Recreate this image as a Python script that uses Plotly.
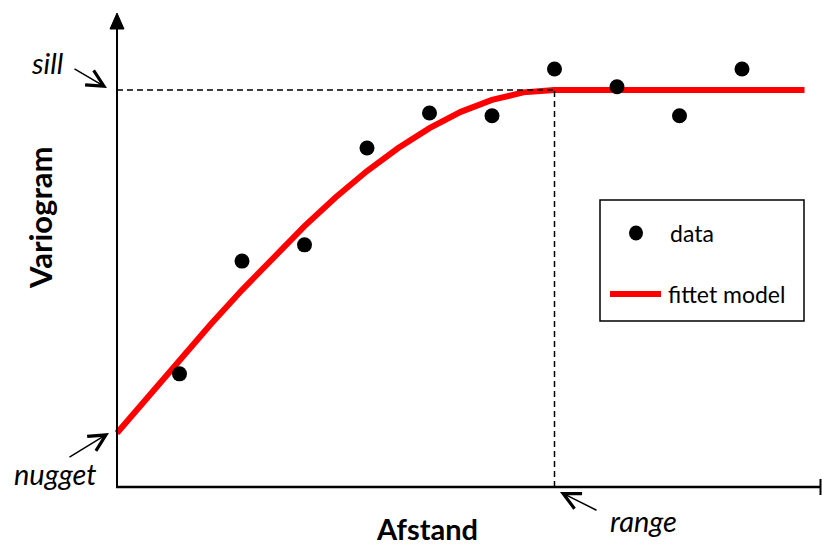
import plotly.graph_objects as go

# ---- data ----
dist_data = [1, 2, 3, 4, 5, 6, 7, 8, 9, 10]
gamma_data = [0.285, 0.569, 0.610, 0.854, 0.942, 0.935, 1.053, 1.008, 0.935, 1.053]

dist_model = [0, 0.5, 1, 1.5, 2, 2.5, 3, 3.5, 4, 4.5, 5, 5.5, 6, 6.5, 7, 11]
gamma_model = [0.136, 0.228, 0.32, 0.41, 0.496, 0.579, 0.657, 0.73, 0.796, 0.854,
               0.904, 0.945, 0.975, 0.994, 1.0, 1.0]

nugget = 0.136
sill = 1.0
rng = 7.0

# ---- layout geometry ----
W, H = 822, 548
X0PX, Y0PX = 117, 487        # pixel of origin
SX, SY = 62.5, 397.0         # pixels per data unit


def dx(px):
    return (px - X0PX) / SX


def dy(py):
    return (Y0PX - py) / SY


FONT = "Lato"
BLACK = "#000000"
RED = "#ff0000"

fig = go.Figure()

fig.add_trace(go.Scatter(
    x=dist_model, y=gamma_model, mode="lines",
    line=dict(color=RED, width=6), showlegend=False, hoverinfo="skip"))
fig.add_trace(go.Scatter(
    x=dist_data, y=gamma_data, mode="markers",
    marker=dict(color=BLACK, size=15), showlegend=False, hoverinfo="skip"))

shapes = []
# axes
shapes.append(dict(type="line", x0=0, x1=0, y0=0, y1=dy(26), line=dict(color=BLACK, width=2)))
shapes.append(dict(type="line", x0=dx(116), x1=dx(821), y0=0, y1=0, line=dict(color=BLACK, width=2.5)))
shapes.append(dict(type="line", x0=dx(820.5), x1=dx(820.5), y0=dy(479), y1=dy(495), line=dict(color=BLACK, width=2)))
# y-axis arrowhead
shapes.append(dict(type="path",
                   path=f"M {dx(117)},{dy(13)} L {dx(110)},{dy(29)} L {dx(124)},{dy(29)} Z",
                   fillcolor=BLACK, line=dict(color=BLACK, width=1)))
# sill / range dashed guides
shapes.append(dict(type="line", x0=0, x1=rng, y0=sill, y1=sill,
                   line=dict(color=BLACK, width=1.5, dash="6px,4px")))
shapes.append(dict(type="line", x0=rng, x1=rng, y0=0, y1=sill,
                   line=dict(color=BLACK, width=1.5, dash="6px,4px")))
# legend box
shapes.append(dict(type="rect", x0=dx(600), x1=dx(804), y0=dy(200), y1=dy(321),
                   line=dict(color=BLACK, width=1.5), fillcolor="white", layer="below"))
shapes.append(dict(type="circle", xsizemode="pixel", ysizemode="pixel",
                   xanchor=dx(636), yanchor=dy(233), x0=-7, x1=7, y0=-7.5, y1=7.5,
                   fillcolor=BLACK, line=dict(color=BLACK, width=0)))
shapes.append(dict(type="line", x0=dx(610), x1=dx(661), y0=dy(294), y1=dy(294),
                   line=dict(color=RED, width=6)))

annotations = []


def text(x, y, s, size, bold=False, italic=False, angle=0, xanchor="center", yanchor="middle"):
    if bold:
        s = f"<b>{s}</b>"
    if italic:
        s = f"<i>{s}</i>"
    annotations.append(dict(x=x, y=y, text=s, showarrow=False, textangle=angle,
                            xanchor=xanchor, yanchor=yanchor,
                            font=dict(family=FONT, size=size, color=BLACK)))


def arrow(hx, hy, tx, ty):
    annotations.append(dict(x=dx(hx), y=dy(hy), ax=tx - hx, ay=ty - hy, text="",
                            showarrow=True, arrowhead=5, arrowsize=2.2, arrowwidth=1.5,
                            arrowcolor=BLACK))


text(dx(47), dy(62), "sill", 29, italic=True)
arrow(107, 88, 73, 68)
text(dx(55), dy(473), "nugget", 29, italic=True)
arrow(109, 433, 68, 458)
text(dx(643), dy(520), "range", 29, italic=True)
arrow(560, 492, 598, 511)

text(dx(40), dy(218), "Variogram", 31, bold=True, angle=-90)
text(dx(427), dy(548), "Afstand", 29, bold=True, yanchor="bottom")

text(dx(668), dy(233), "data", 23, xanchor="left")
text(dx(666), dy(294), "fittet model", 23, xanchor="left")

fig.update_layout(
    width=W, height=H,
    margin=dict(l=0, r=0, t=0, b=0),
    paper_bgcolor="white", plot_bgcolor="white",
    xaxis=dict(visible=False, range=[dx(0), dx(W)], fixedrange=True),
    yaxis=dict(visible=False, range=[dy(H), dy(0)], fixedrange=True),
    shapes=shapes, annotations=annotations,
    showlegend=False,
)

fig.write_html("out.html")
